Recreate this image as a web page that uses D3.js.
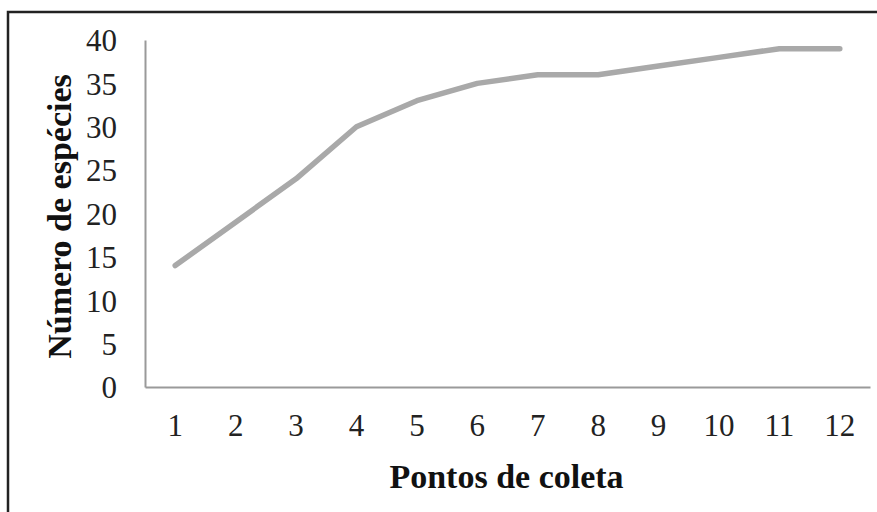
<!DOCTYPE html>
<html>
<head>
<meta charset="utf-8">
<script src="https://cdn.jsdelivr.net/npm/d3@7"></script>
<style>
  html, body { margin: 0; padding: 0; background: #fff; }
  svg { display: block; }
</style>
</head>
<body>
<div id="chart"></div>
<script>
// Número de espécies por ponto de coleta
const pontos = ['1', '2', '3', '4', '5', '6', '7', '8', '9', '10', '11', '12'];
const especies = [14, 19, 24, 30, 33, 35, 36, 36, 37, 38, 39, 39];
const yTicks = [0, 5, 10, 15, 20, 25, 30, 35, 40];

const W = 877, H = 512;
const M = { top: 40, right: 7, bottom: 125, left: 145 };
const iW = W - M.left - M.right;
const iH = H - M.top - M.bottom;
const FONT = '"Liberation Serif", "Times New Roman", serif';
const LINE_COLOR = '#a9a9a9';
const AXIS_COLOR = '#9a9a9a';

const svg = d3.select('#chart').append('svg')
    .attr('width', W)
    .attr('height', H);

// outer frame (runs off the right and bottom edges)
svg.append('rect')
    .attr('x', 8).attr('y', 12)
    .attr('width', W + 10).attr('height', H + 10)
    .attr('fill', 'none')
    .attr('stroke', '#222')
    .attr('stroke-width', 2.5);

const g = svg.append('g').attr('transform', `translate(${M.left},${M.top})`);

const x = d3.scaleBand().domain(pontos).range([0, iW]);
const y = d3.scaleLinear().domain([0, 40]).range([iH, 0]);

// axes
const yAxis = g.append('g')
    .call(d3.axisLeft(y).tickValues(yTicks).tickSize(0).tickPadding(28));
const xAxis = g.append('g')
    .attr('transform', `translate(0,${iH})`)
    .call(d3.axisBottom(x).tickSize(0).tickPadding(27));

[yAxis, xAxis].forEach(ax => {
    ax.select('.domain').attr('stroke', AXIS_COLOR).attr('stroke-width', 2);
    ax.selectAll('.tick text')
        .attr('font-family', FONT)
        .attr('font-size', 31)
        .attr('fill', '#222');
});
yAxis.selectAll('.tick text').attr('dy', '0.35em');

// series line
const line = d3.line()
    .x((d, i) => x(pontos[i]) + x.bandwidth() / 2)
    .y(d => y(d));

g.append('path')
    .datum(especies)
    .attr('fill', 'none')
    .attr('stroke', LINE_COLOR)
    .attr('stroke-width', 5.5)
    .attr('stroke-linejoin', 'round')
    .attr('stroke-linecap', 'round')
    .attr('d', line);

// axis titles
g.append('text')
    .attr('x', iW / 2 - 1)
    .attr('y', iH + 101)
    .attr('text-anchor', 'middle')
    .attr('font-family', FONT)
    .attr('font-weight', 'bold')
    .attr('font-size', 34)
    .attr('fill', '#111')
    .text('Pontos de coleta');

g.append('text')
    .attr('transform', 'rotate(-90)')
    .attr('x', -(iH / 2) - 3)
    .attr('y', -74)
    .attr('text-anchor', 'middle')
    .attr('font-family', FONT)
    .attr('font-weight', 'bold')
    .attr('font-size', 34)
    .attr('fill', '#111')
    .text('Número de espécies');
</script>
</body>
</html>
